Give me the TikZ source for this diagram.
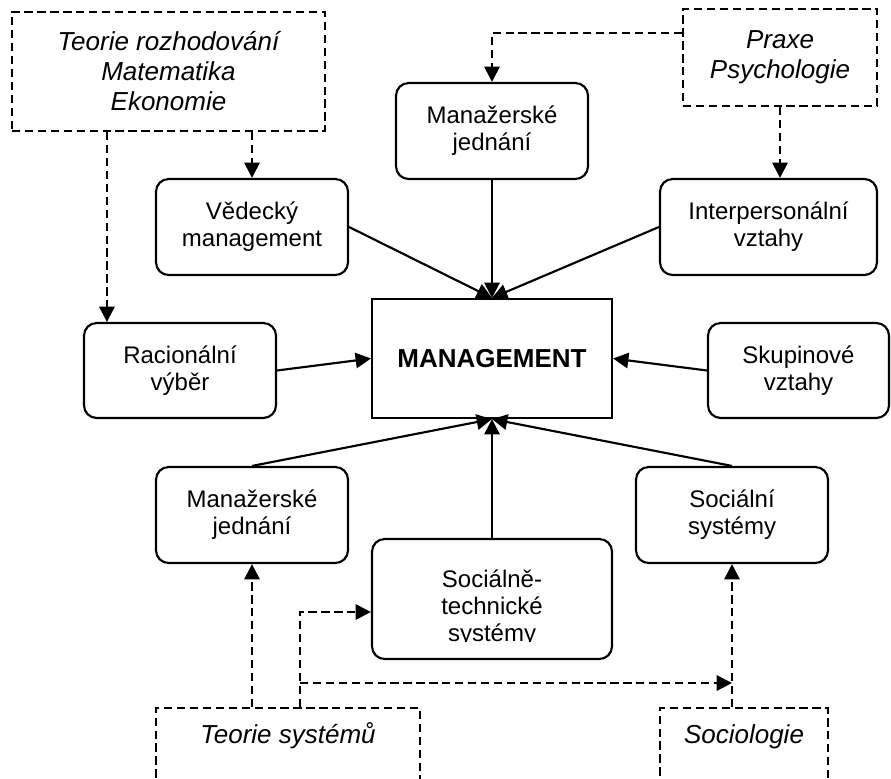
\documentclass[tikz,border=0pt]{standalone}
\usepackage{fontspec}
\setmainfont{Liberation Sans}
\usetikzlibrary{arrows.meta,calc}

\tikzset{
  base/.style={line width=1.6pt},
  rbox/.style={base, draw, rounded corners=9.5pt, font=\fontsize{18}{20.25}\selectfont},
  sbox/.style={base, draw, font=\fontsize{19.5}{22.5}\selectfont\bfseries},
  dbox/.style={base, draw, dash pattern=on 6.2pt off 3.5pt, font=\fontsize{19.5}{22.5}\selectfont\itshape},
  sz/.style 2 args={minimum width=#1*0.75pt, minimum height=#2*0.75pt},
  arr/.style={base, -{Triangle[length=11.5pt,width=11.5pt]}},
  darr/.style={arr, dash pattern=on 6.2pt off 3.5pt},
}

\begin{document}
\begin{tikzpicture}[x=0.75pt,y=-0.75pt,
  every node/.style={align=center, inner sep=0pt}]
\clip (0,0) rectangle (891,778);

% source disciplines (dashed frames)
\node[dbox, sz={313}{119}] (tl) at (168.5,71.5) {Teorie rozhodování\\Matematika\\Ekonomie};
\node[dbox, sz={194}{97}] (tr) at (780,57.5) {Praxe\\Psychologie};
\node[dbox, anchor=north, minimum width=264*0.75pt, text height=26.25pt, text depth=75pt] (ts) at (288,707) {Teorie systémů};
\node[dbox, anchor=north, minimum width=168*0.75pt, text height=26.25pt, text depth=75pt] (so) at (744,707) {Sociologie};

% approaches
\node[rbox, sz={192}{96}] (mjt) at (492,131) {Manažerské\\jednání};
\node[rbox, sz={192}{96}] (vm) at (252,227) {Vědecký\\management};
\node[rbox, sz={217}{96}] (ip) at (768.5,227) {Interpersonální\\vztahy};
\node[rbox, sz={192}{95}] (rv) at (180,370.5) {Racionální\\výběr};
\node[rbox, sz={181}{95}] (sv) at (798.5,370.5) {Skupinové\\vztahy};
\node[rbox, sz={192}{96}] (mjb) at (252,515) {Manažerské\\jednání};
\node[rbox, sz={192}{96}] (ss) at (732,515) {Sociální\\systémy};
\node[rbox, sz={240}{120}] (st) at (492,599) {};
\begin{scope}
  \clip ($(st.north west)+(5,5)$) rectangle ($(st.south east)+(-5,-19)$);
  \node[font=\fontsize{18}{20.25}\selectfont] (stt) at ($(st.center)+(0,9)$) {Sociálně-\\technické\\systémy};
\end{scope}

% centre
\node[sbox, sz={240}{119}] (mg) at (492,358.5) {MANAGEMENT};

% influences on management
\draw[arr] (vm.east) -- (mg.north);
\draw[arr] (mjt.south) -- (mg.north);
\draw[arr] (ip.west) -- (mg.north);
\draw[arr] (rv.east) -- (mg.west);
\draw[arr] (sv.west) -- (mg.east);
\draw[arr] (mjb.north) -- (mg.south);
\draw[arr] (st.north) -- (mg.south);
\draw[arr] (ss.north) -- (mg.south);

% disciplines feeding the approaches
\coordinate (rvin) at ($(rv.north west)+(24,0)$);
\draw[darr] (tl.south -| rvin) -- (rvin);
\draw[darr] (tl.south -| vm.north) -- (vm.north);
\coordinate (trw) at ($(tr.north west)+(0,25)$);
\draw[darr] (trw) -| (mjt.north);
\draw[darr] (tr.south) -- (tr.south |- ip.north);
\draw[darr] (ts.north -| mjb.south) -- (mjb.south);
\coordinate (tsa) at ($(ts.north west)+(145,0)$);
\coordinate (stin) at ($(st.west)+(0,13)$);
\draw[darr] (tsa) |- (stin);
\coordinate (tsb) at ($(tsa)+(0,-24)$);
\draw[darr] (tsb) -- (tsb -| ss.south);
\draw[darr] (so.north -| ss.south) -- (ss.south);
\end{tikzpicture}
\end{document}
